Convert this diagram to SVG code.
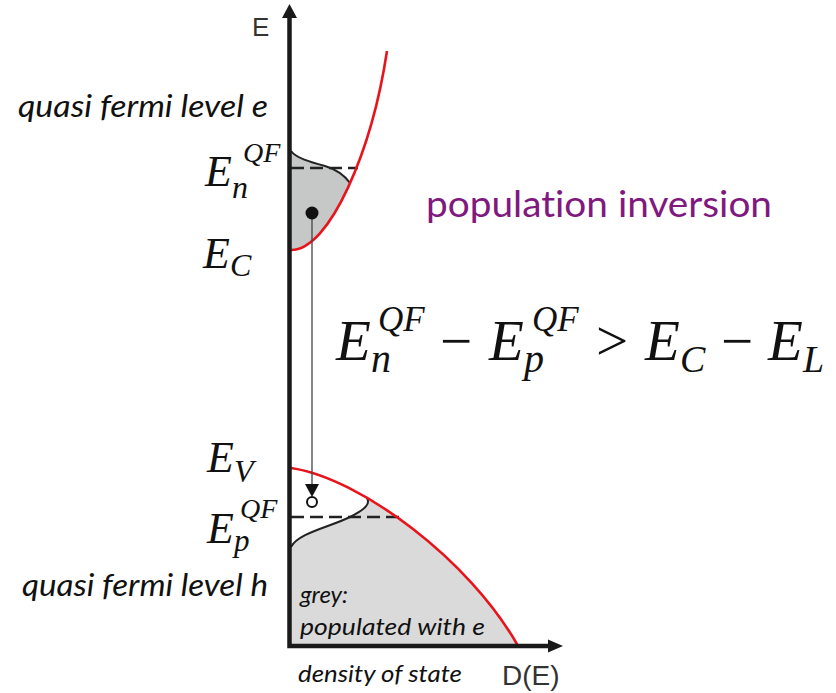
<svg xmlns="http://www.w3.org/2000/svg" width="836" height="693" viewBox="0 0 836 693">
<style>
.lbl{font-family:Lato,"Open Sans",sans-serif;font-style:italic;fill:#111;font-variant-ligatures:none}
.math{font-family:"Liberation Serif","Times New Roman",serif;font-style:italic;fill:#111}
.op{font-style:normal}
.axis{fill:none;stroke:#1a1a1a;stroke-width:4.5}
.red{fill:none;stroke:#e8141b;stroke-width:2.6}
.fermi{fill:none;stroke:#222;stroke-width:2}
.dash{stroke:#222;stroke-width:2.5;stroke-dasharray:13 6}
</style>
<rect width="836" height="693" fill="#fff"/>
<g id="conduction-band">
<path d="M291,151 C296,158 310,162 325,166 C338,170 345,176 350.06,183.08 C332.37,222.96 311.28,250 291,250 Z" fill="#c6c8c7"/>
<line class="dash" x1="291" y1="168" x2="358" y2="168"/>
<path class="fermi" d="M291,151 C296,158 310,162 325,166 C338,170 345,176 350,183"/>
<path class="red" d="M291,250 C330,250 372,150 387,51"/>
</g>
<g id="valence-band">
<path d="M366.5,497.5 C371,503 366,509 350,517 C330,527 298,533 291,547 L291,646 L518,646 C485.36,587.52 424.05,530.89 366.5,497.5 Z" fill="#dadada"/>
<line class="dash" x1="291" y1="517" x2="403" y2="517"/>
<path class="fermi" d="M366.5,497.5 C371,503 366,509 350,517 C330,527 298,533 291,547"/>
<path class="red" d="M291,468 C360,478 470,560 518,646"/>
</g>
<g id="connectors">
<line x1="312" y1="215" x2="312" y2="486" stroke="#444" stroke-width="1.3"/>
<polygon points="305,484 319,484 312,497" fill="#111"/>
<circle cx="312" cy="213" r="6.5" fill="#111"/>
<circle cx="312" cy="502" r="5" fill="#fff" stroke="#111" stroke-width="2"/>
</g>
<g id="axes">
<path class="axis" d="M289.5,15 V646 H550"/>
<polygon points="289.5,4 282,18 297,18" fill="#1a1a1a"/>
<polygon points="563,646 548,639.5 548,652.5" fill="#1a1a1a"/>
<text x="252" y="36" font-family="Liberation Sans,Arial,sans-serif" font-size="26" fill="#333">E</text>
<text x="502" y="685" font-family="Liberation Sans,Arial,sans-serif" font-size="28" fill="#333">D(E)</text>
<text class="lbl" x="298" y="682" font-size="24" textLength="164" lengthAdjust="spacingAndGlyphs">density of state</text>
</g>
<g id="labels-left">
<text class="lbl" x="18" y="117" font-size="31" textLength="250" lengthAdjust="spacingAndGlyphs">quasi fermi level e</text>
<text class="lbl" x="22" y="596" font-size="31" textLength="246" lengthAdjust="spacingAndGlyphs">quasi fermi level h</text>
<text class="math" font-size="44"><tspan x="205" y="186">E</tspan><tspan x="232" y="198" font-size="32">n</tspan><tspan x="243" y="162" font-size="28">QF</tspan></text>
<text class="math" font-size="44"><tspan x="203" y="268">E</tspan><tspan x="230" y="276" font-size="32">C</tspan></text>
<text class="math" font-size="44"><tspan x="207" y="472">E</tspan><tspan x="234" y="482" font-size="32">V</tspan></text>
<text class="math" font-size="44"><tspan x="207" y="543">E</tspan><tspan x="234" y="551" font-size="31">p</tspan><tspan x="240" y="517.5" font-size="28">QF</tspan></text>
</g>
<g id="grey-note">
<text class="lbl" x="300" y="603" font-size="24">grey:</text>
<text class="lbl" x="300" y="635" font-size="24" textLength="185" lengthAdjust="spacingAndGlyphs">populated with e</text>
</g>
<g id="title">
<text x="426" y="217" font-family="Lato,'Open Sans',sans-serif" font-size="37" fill="#80197f" style="font-variant-ligatures:none" textLength="346" lengthAdjust="spacingAndGlyphs">population inversion</text>
</g>
<g id="formula">
<text class="math" font-size="57"><tspan x="336" y="360">E</tspan><tspan x="371" y="372" font-size="40">n</tspan><tspan x="378" y="331" font-size="35">QF</tspan><tspan class="op" x="440" y="360">−</tspan><tspan x="489" y="360">E</tspan><tspan x="524" y="372" font-size="40">p</tspan><tspan x="532" y="331" font-size="35">QF</tspan><tspan class="op" x="596" y="360">&gt;</tspan><tspan x="645" y="360">E</tspan><tspan x="680" y="372" font-size="38">C</tspan><tspan class="op" x="721" y="360">−</tspan><tspan x="768" y="360">E</tspan><tspan x="803" y="372" font-size="38">L</tspan></text>
</g>
</svg>
